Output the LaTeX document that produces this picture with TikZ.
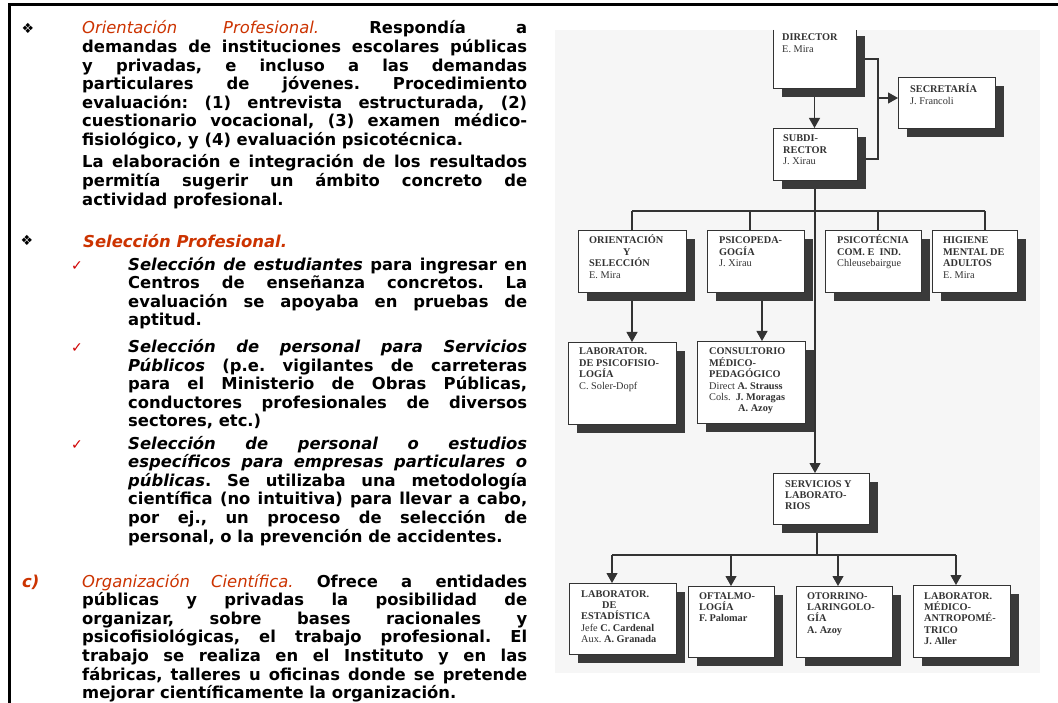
\documentclass[tikz,border=0pt]{standalone}
\usepackage{fontspec}
\setmainfont{DejaVu Sans}[BoldFont={DejaVu Sans Bold},ItalicFont={DejaVu Sans Oblique},BoldItalicFont={DejaVu Sans Bold Oblique}]
\newfontfamily\chartfont{Liberation Serif}
\usetikzlibrary{arrows.meta}
\frenchspacing

\definecolor{hred}{HTML}{CC3300}
\definecolor{ckred}{HTML}{D00000}
\definecolor{scanbg}{HTML}{F6F6F6}
\definecolor{ink}{HTML}{333333}
\definecolor{shade}{HTML}{3A3A3A}

\pgfdeclarelayer{chartbg}
\pgfdeclarelayer{links}
\pgfsetlayers{chartbg,links,main}

% one justified line of a paragraph
\newcommand{\jl}[1]{\makebox[\linewidth][s]{#1}\par}
% red italic heading words
\newcommand{\hl}[1]{{\color{hred}\mdseries\itshape #1}}
% stacked lines inside an org-chart box
\newcommand{\stack}[1]{\parbox[t]{120pt}{\raggedright #1}}

\tikzset{
  body/.style={inner sep=0pt, anchor=base west, font=\fontsize{16.4}{18.6}\selectfont\bfseries},
  sym/.style={inner sep=0pt, font=\fontsize{14}{14}\selectfont},
  chk/.style={inner sep=0pt, anchor=base west, text=ckred, font=\fontsize{14}{14}\selectfont},
  orgbox/.style={draw=ink, line width=0.9pt, fill=white, inner sep=0pt, outer sep=0pt, anchor=north west},
  openbox/.style={draw=none, fill=white, inner sep=0pt, outer sep=0pt, anchor=north west},
  orgtxt/.style={inner sep=0pt, anchor=base west, text=ink, font=\chartfont\fontsize{10.3}{11.4}\selectfont},
  link/.style={draw=ink, line width=1.1pt},
  arr/.style={link, -{Triangle[width=11pt,length=10pt]}},
  frame/.style={line width=3pt, draw=black},
  dropshade/.style={fill=shade, draw=none},
}

\begin{document}
\begin{tikzpicture}[x=1pt,y=-1pt]
\useasboundingbox (0,0) rectangle (1058,703);
\begin{pgfonlayer}{chartbg}
  \fill[white] (0,0) rectangle (1058,703);
  \fill[scanbg] (555,30) rectangle (1040,673);
\end{pgfonlayer}

% page frame (top and left rules)
\draw[frame] (9.5,703) -- (9.5,4.3) -- (1058,4.3);

% ---------------- left column text ----------------
\node[sym] (b1) at (28,28) {❖};
\node[body] (o1) at (82,34) {\parbox[t]{445pt}{%
\jl{\hl{Orientación Profesional.} Respondía a}
\jl{demandas de instituciones escolares públicas}
\jl{y privadas, e incluso a las demandas}
\jl{particulares de jóvenes. Procedimiento}
\jl{evaluación: (1) entrevista estructurada, (2)}
\jl{cuestionario vocacional, (3) examen médico-}
fisiológico, y (4) evaluación psicotécnica.}};
\node[body] (o2) at (82,168) {\parbox[t]{445pt}{%
\jl{La elaboración e integración de los resultados}
\jl{permitía sugerir un ámbito concreto de}
actividad profesional.}};

\node[sym] (b2) at (27,240) {❖};
\node[body] (s0) at (83,248) {\color{hred}\itshape Selección Profesional.};

\node[chk] (k1) at (71,270.2) {✓};
\node[body] (s1) at (128,270.2) {\parbox[t]{399pt}{%
\jl{\textit{Selección de estudiantes} para ingresar en}
\jl{Centros de enseñanza concretos. La}
\jl{evaluación se apoyaba en pruebas de}
aptitud.}};

\node[chk] (k2) at (71,352.5) {✓};
\node[body] (s2) at (128,352.5) {\parbox[t]{399pt}{%
\jl{\textit{Selección de personal para Servicios}}
\jl{\textit{Públicos} (p.e. vigilantes de carreteras}
\jl{para el Ministerio de Obras Públicas,}
\jl{conductores profesionales de diversos}
sectores, etc.)}};

\node[chk] (k3) at (71,449) {✓};
\node[body] (s3) at (128,449) {\parbox[t]{399pt}{%
\jl{\textit{Selección de personal o estudios}}
\jl{\textit{específicos para empresas particulares o}}
\jl{\textit{públicas}. Se utilizaba una metodología}
\jl{científica (no intuitiva) para llevar a cabo,}
\jl{por ej., un proceso de selección de}
personal, o la prevención de accidentes.}};

\node[body] (c0) at (22,587) {\color{hred}\itshape c)};
\node[body] (c1) at (82,587) {\parbox[t]{445pt}{%
\jl{\hl{Organización Científica.} Ofrece a entidades}
\jl{públicas y privadas la posibilidad de}
\jl{organizar, sobre bases racionales y}
\jl{psicofisiológicas, el trabajo profesional. El}
\jl{trabajo se realiza en el Instituto y en las}
\jl{fábricas, talleres u oficinas donde se pretende}
mejorar científicamente la organización.}};

% ---------------- organisation chart ----------------
% drop shadows first (9 right, 9 down of each box), then the boxes on top
\fill[dropshade] (782,36) rectangle (865,97);
\fill[dropshade] (907,86) rectangle (1004,137);
\fill[dropshade] (782,137) rectangle (866,189);
\fill[dropshade] (587,239) rectangle (695,301);
\fill[dropshade] (716,239) rectangle (813,301);
\fill[dropshade] (834,239) rectangle (930,301);
\fill[dropshade] (941,239) rectangle (1026,301);
\fill[dropshade] (577,351) rectangle (685,433);
\fill[dropshade] (706,350) rectangle (814,432);
\fill[dropshade] (782,482) rectangle (878,533);
\fill[dropshade] (578,592) rectangle (685,663);
\fill[dropshade] (697,595) rectangle (783,666);
\fill[dropshade] (805,595) rectangle (901,666);
\fill[dropshade] (922,594) rectangle (1019,666);

% boxes
\node[openbox, minimum width=83pt, minimum height=58pt] (dir) at (773,30) {};
\draw[draw=ink, line width=0.9pt] (dir.north west) |- (dir.south east) -- (dir.north east);
\node[orgbox, minimum width=97pt, minimum height=51pt] (sec) at (898,77) {};
\node[orgbox, minimum width=84pt, minimum height=52pt] (sub) at (773,128) {};
\node[orgbox, minimum width=108pt, minimum height=62pt] (ori) at (578,230) {};
\node[orgbox, minimum width=97pt, minimum height=62pt] (psi) at (707,230) {};
\node[orgbox, minimum width=96pt, minimum height=62pt] (psc) at (825,230) {};
\node[orgbox, minimum width=85pt, minimum height=62pt] (hig) at (932,230) {};
\node[orgbox, minimum width=108pt, minimum height=82pt] (lab) at (568,342) {};
\node[orgbox, minimum width=108pt, minimum height=82pt] (con) at (697,341) {};
\node[orgbox, minimum width=96pt, minimum height=51pt] (srv) at (773,473) {};
\node[orgbox, minimum width=107pt, minimum height=71pt] (est) at (569,583) {};
\node[orgbox, minimum width=86pt, minimum height=71pt] (oft) at (688,586) {};
\node[orgbox, minimum width=96pt, minimum height=71pt] (oto) at (796,586) {};
\node[orgbox, minimum width=97pt, minimum height=72pt] (ame) at (913,585) {};

% box texts
\node[orgtxt] (dirT) at (782,41) {\stack{\textbf{DIRECTOR}\\E. Mira}};
\node[orgtxt] (secT) at (910,93) {\stack{\textbf{SECRETARÍA}\\J. Francoli}};
\node[orgtxt] (subT) at (783,142) {\stack{\textbf{SUBDI-}\\\textbf{RECTOR}\\J. Xirau}};
\node[orgtxt] (oriT) at (589,244) {\stack{\textbf{ORIENTACIÓN}\\\hspace*{34pt}\textbf{Y}\\\textbf{SELECCIÓN}\\E. Mira}};
\node[orgtxt] (psiT) at (719,244) {\stack{\textbf{PSICOPEDA-}\\\textbf{GOGÍA}\\J. Xirau}};
\node[orgtxt] (pscT) at (837,244) {\stack{\textbf{PSICOTÉCNIA}\\\textbf{COM. E\ \ IND.}\\Chleusebairgue}};
\node[orgtxt] (higT) at (943,244) {\stack{\textbf{HIGIENE}\\\textbf{MENTAL DE}\\\textbf{ADULTOS}\\E. Mira}};
\node[orgtxt] (labT) at (579,355) {\stack{\textbf{LABORATOR.}\\\textbf{DE PSICOFISIO-}\\\textbf{LOGÍA}\\C. Soler-Dopf}};
\node[orgtxt] (conT) at (709,355) {\stack{\textbf{CONSULTORIO}\\\textbf{MÉDICO-}\\\textbf{PEDAGÓGICO}\\Direct \textbf{A. Strauss}\\Cols.\ \ \textbf{J. Moragas}\\\hspace*{29pt}\textbf{A. Azoy}}};
\node[orgtxt] (srvT) at (785,487) {\stack{\textbf{SERVICIOS Y}\\\textbf{LABORATO-}\\\textbf{RIOS}}};
\node[orgtxt] (estT) at (581,597) {\stack{\textbf{LABORATOR.}\\\hspace*{21pt}\textbf{DE}\\\textbf{ESTADÍSTICA}\\Jefe \textbf{C. Cardenal}\\Aux. \textbf{A. Granada}}};
\node[orgtxt] (oftT) at (699,599) {\stack{\textbf{OFTALMO-}\\\textbf{LOGÍA}\\\textbf{F. Palomar}}};
\node[orgtxt] (otoT) at (807,599) {\stack{\textbf{OTORRINO-}\\\textbf{LARINGOLO-}\\\textbf{GÍA}\\\textbf{A. Azoy}}};
\node[orgtxt] (ameT) at (924,599) {\stack{\textbf{LABORATOR.}\\\textbf{MÉDICO-}\\\textbf{ANTROPOMÉ-}\\\textbf{TRICO}\\\textbf{J. Aller}}};

% connectors
\coordinate (xj) at (878,0);
\coordinate (sj) at (878,98);
\coordinate (sx) at ([yshift=-5pt]sub.east);
\coordinate (ba) at (632,211);
\coordinate (bb) at (750,211);
\coordinate (bc) at (878,211);
\coordinate (bd) at (985,211);
\coordinate (xp) at (762,0);
\coordinate (cm) at (817,555);
\coordinate (ca) at (612,555);
\coordinate (cb) at (731,555);
\coordinate (cc) at (838,555);
\coordinate (cd) at (956,555);

\begin{pgfonlayer}{links}
  \draw[arr] (dir.south) -- (dir.south |- sub.north);
  \draw[link] (dir.east) -| (xj |- sx) -- (sx);
  \draw[arr] (sj) -- (sj -| sec.west);
  \draw[arr] (sub.south) -- (sub.south |- srv.north);
  \draw[link] (ba) -- (bd);
  \draw[link] (ba) -- (ba |- ori.north);
  \draw[link] (bb) -- (bb |- psi.north);
  \draw[link] (bc) -- (bc |- psc.north);
  \draw[link] (bd) -- (bd |- hig.north);
  \draw[arr] (ori.south) -- (ori.south |- lab.north);
  \draw[arr] (xp |- psi.south) -- (xp |- con.north);
  \draw[link] (cm |- srv.south) -- (cm);
  \draw[link] (ca) -- (cd);
  \draw[arr] (ca) -- (ca |- est.north);
  \draw[arr] (cb) -- (cb |- oft.north);
  \draw[arr] (cc) -- (cc |- oto.north);
  \draw[arr] (cd) -- (cd |- ame.north);
\end{pgfonlayer}
\end{tikzpicture}
\end{document}
